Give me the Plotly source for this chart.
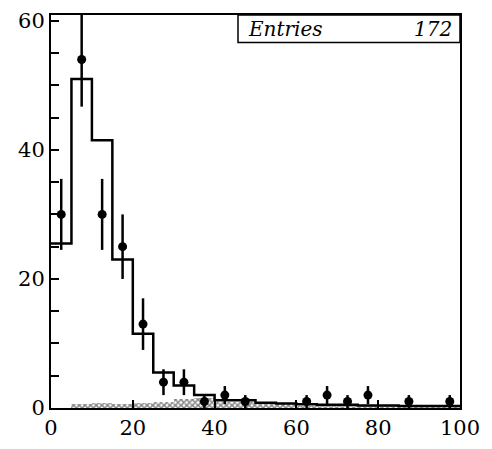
import plotly.graph_objects as go

# Bin edges (width 5) and MC histogram contents
bin_edges = [0, 5, 10, 15, 20, 25, 30, 35, 40, 45, 50, 55, 60, 65, 70, 75, 80, 85, 90, 95, 100]
mc_values = [25.5, 51, 41.5, 23, 11.5, 5.5, 3.5, 2.0, 1.2, 1.2, 0.8, 0.7, 0.6, 0.5, 0.5, 0.4, 0.4, 0.3, 0.3, 0.3]
bg_values = [0, 0.6, 0.7, 0.6, 0.7, 0.9, 1.4, 1.5, 0.9, 0.9, 0.8, 0.6, 0.3, 0.3, 0.3, 0.3, 0.3, 0.3, 0.3, 0.3]

# Data points
data_x = [2.5, 7.5, 12.5, 17.5, 22.5, 27.5, 32.5, 37.5, 42.5, 47.5, 62.5, 67.5, 72.5, 77.5, 87.5, 97.5]
data_y = [30, 54, 30, 25, 13, 4, 4, 1, 2, 1, 1, 2, 1, 2, 1, 1]
data_err = [5.5, 7.3, 5.5, 5.0, 4.0, 2.0, 2.0, 1.0, 1.4, 1.0, 1.0, 1.4, 1.0, 1.4, 1.0, 1.0]

entries_label = "Entries"
entries_value = "172"

centers = [(bin_edges[i] + bin_edges[i + 1]) / 2 for i in range(len(bin_edges) - 1)]

fig = go.Figure()

fig.add_trace(go.Bar(
    x=centers, y=bg_values, width=5,
    marker=dict(color="white", line=dict(width=0),
                pattern=dict(shape="x", fgcolor="black", bgcolor="white", size=4, solidity=0.6)),
    showlegend=False, hoverinfo="skip",
))

step_x = bin_edges[:]
step_y = mc_values + [mc_values[-1]]
fig.add_trace(go.Scatter(
    x=step_x, y=step_y, mode="lines", line=dict(shape="hv", color="black", width=2.5),
    showlegend=False, hoverinfo="skip",
))

fig.add_trace(go.Scatter(
    x=data_x, y=data_y, mode="markers",
    marker=dict(color="black", size=9, symbol="circle"),
    error_y=dict(type="data", array=data_err, color="black", thickness=2.5, width=0),
    showlegend=False,
))

FONT = "DejaVu Serif"

fig.update_layout(
    width=492, height=449,
    margin=dict(l=51, r=32, t=9, b=41),
    paper_bgcolor="white", plot_bgcolor="white",
    font=dict(family=FONT, size=21, color="black"),
    bargap=0,
    xaxis=dict(range=[0, 100], tickvals=[0, 20, 40, 60, 80, 100],
               ticks="inside", ticklen=8, tickwidth=1.5, tickcolor="black",
               showline=True, linecolor="black", linewidth=2, mirror=True,
               showgrid=False, zeroline=False,
               tickfont=dict(family=FONT, size=21)),
    yaxis=dict(range=[0, 60.9], tickvals=[0, 20, 40, 60],
               ticks="inside", ticklen=8, tickwidth=1.5, tickcolor="black",
               minor=dict(dtick=5, ticks="inside", ticklen=8, tickwidth=1.5, tickcolor="black", showgrid=False),
               showline=True, linecolor="black", linewidth=2, mirror=True,
               showgrid=False, zeroline=False,
               tickfont=dict(family=FONT, size=21)),
)

box_x0 = (238 - 51) / 409
box_y0 = 1 - 28 / 399
fig.add_shape(type="rect", xref="paper", yref="paper", x0=box_x0, x1=1, y0=box_y0, y1=1,
              line=dict(color="black", width=1.5), fillcolor="white", layer="above")
fig.add_annotation(xref="paper", yref="paper", x=box_x0 + 0.02, y=(1 + box_y0) / 2,
                   text="<i>" + entries_label + "</i>", showarrow=False, xanchor="left", yanchor="middle",
                   font=dict(family=FONT, size=20, color="black"))
fig.add_annotation(xref="paper", yref="paper", x=0.985, y=(1 + box_y0) / 2,
                   text="<i>" + entries_value + "</i>", showarrow=False, xanchor="right", yanchor="middle",
                   font=dict(family=FONT, size=20, color="black"))

fig.write_html("out.html")
